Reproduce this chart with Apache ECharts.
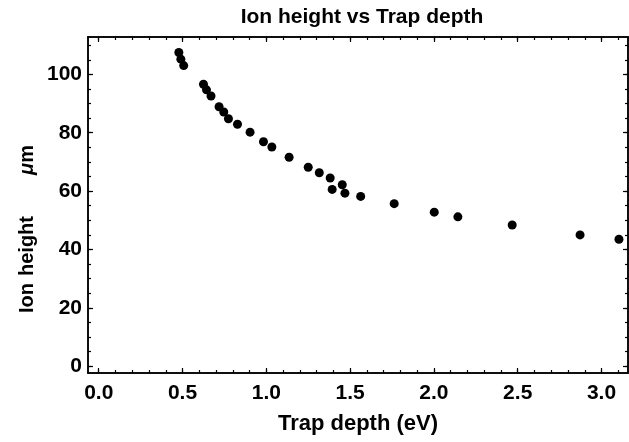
<!DOCTYPE html>
<html>
<head>
<meta charset="utf-8">
<script src="https://cdn.jsdelivr.net/npm/echarts@6/dist/echarts.min.js"></script>
<style>
  html, body { margin: 0; padding: 0; background: #fff; }
  #main { width: 629px; height: 442px; }
</style>
</head>
<body>
<div id="main"></div>
<script>
// values
const trapDepth = [0.478, 0.490, 0.507, 0.625, 0.643, 0.670, 0.718, 0.746, 0.774, 0.828,
  0.903, 0.983, 1.033, 1.136, 1.250, 1.316, 1.381, 1.393, 1.453, 1.469,
  1.563, 1.763, 2.002, 2.143, 2.467, 2.872, 3.104];
const ionHeight = [107.5, 105.2, 103.0, 96.6, 94.7, 92.6, 88.9, 87.1, 84.8, 82.9,
  80.2, 76.9, 75.1, 71.6, 68.2, 66.3, 64.5, 60.6, 62.2, 59.3,
  58.2, 55.7, 52.8, 51.2, 48.4, 45.0, 43.5];

const xMajor = [0, 0.5, 1.0, 1.5, 2.0, 2.5, 3.0];
const yMajor = [0, 20, 40, 60, 80, 100];
const xMinor = [];
for (let i = 0; i <= 31; i++) xMinor.push(i / 10);
const yMinor = [];
for (let i = 0; i <= 22; i++) yMinor.push(i * 5);

const X_MIN = -0.064, X_MAX = 3.158;
const Y_MIN = -2.3, Y_MAX = 112.8;
const FONT = "'Liberation Sans', Arial, sans-serif";
const black = '#000';

const chart = echarts.init(document.getElementById('main'));

function xAx(pos, ticks, len, labels) {
  return {
    type: 'value', position: pos, min: X_MIN, max: X_MAX,
    axisLine: { show: true, onZero: false, lineStyle: { color: black, width: 1.5 } },
    axisTick: { show: true, inside: true, length: len, customValues: ticks, lineStyle: { color: black, width: 1.2 } },
    axisLabel: {
      show: labels, customValues: xMajor, margin: 10,
      color: black, fontFamily: FONT, fontWeight: 'bold', fontSize: 21,
      formatter: v => v.toFixed(1)
    },
    splitLine: { show: false }
  };
}
function yAx(pos, ticks, len, labels) {
  return {
    type: 'value', position: pos, min: Y_MIN, max: Y_MAX,
    axisLine: { show: true, onZero: false, lineStyle: { color: black, width: 1.5 } },
    axisTick: { show: true, inside: true, length: len, customValues: ticks, lineStyle: { color: black, width: 1.2 } },
    axisLabel: {
      show: labels, customValues: yMajor, margin: 6,
      color: black, fontFamily: FONT, fontWeight: 'bold', fontSize: 21
    },
    splitLine: { show: false }
  };
}

function yName(text, cy, italic) {
  return {
    type: 'text', x: 27, y: cy, rotation: Math.PI / 2,
    style: {
      text: text, fill: black,
      font: (italic ? 'italic ' : '') + 'bold 20px ' + FONT,
      align: 'center', verticalAlign: 'middle'
    }
  };
}

const option = {
  animation: false,
  backgroundColor: '#fff',
  title: {
    text: 'Ion height vs Trap depth',
    left: 357, top: 2, textAlign: 'center',
    textStyle: { color: black, fontFamily: FONT, fontWeight: 'bold', fontSize: 21 }
  },
  grid: { left: 88, right: 1, top: 37, bottom: 69, containLabel: false },
  xAxis: [
    xAx('bottom', xMajor, 5, true),
    xAx('bottom', xMinor, 3, false),
    xAx('top', xMajor, 5, false),
    xAx('top', xMinor, 3, false)
  ],
  yAxis: [
    yAx('left', yMajor, 5, true),
    yAx('left', yMinor, 3, false),
    yAx('right', yMajor, 5, false),
    yAx('right', yMinor, 3, false)
  ],
  graphic: [
    {
      type: 'text', x: 358, y: 424,
      style: {
        text: 'Trap depth (eV)', fill: black,
        font: 'bold 22px ' + FONT, align: 'center', verticalAlign: 'middle'
      }
    },
    yName('Ion', 298, false),
    yName('height', 246, false),
    {
      type: 'text', x: 27, y: 160, rotation: Math.PI / 2,
      style: {
        text: '{i|μ}m', fill: black,
        font: 'bold 20px ' + FONT, align: 'center', verticalAlign: 'middle',
        rich: { i: { fontStyle: 'italic', fontWeight: 'bold', fontSize: 20, fontFamily: FONT, fill: black } }
      }
    }
  ],
  series: [{
    type: 'scatter',
    xAxisIndex: 0, yAxisIndex: 0,
    symbol: 'circle', symbolSize: 9,
    itemStyle: { color: black, opacity: 1 },
    data: trapDepth.map((x, i) => [x, ionHeight[i]])
  }]
};

chart.setOption(option);
window.addEventListener('resize', chart.resize);
</script>
</body>
</html>
